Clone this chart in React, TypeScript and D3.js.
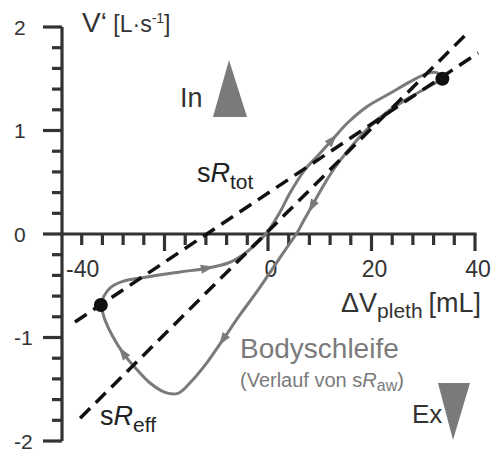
import React from "react";
import * as d3 from "d3";

// ---- data ----
const xMinorTicks = [-36, -32, -28, -24, -20, -16, -12, -8, -4, 0, 4, 8, 12, 16, 20, 24, 28, 32, 36, 40];
const xMajorTicks = [-20, 0, 20, 40];
const xTickLabels = [-40, 0, 20, 40];
const yMinorTicks = [-2, -1.8, -1.6, -1.4, -1.2, -1, -0.8, -0.6, -0.4, -0.2, 0, 0.2, 0.4, 0.6, 0.8, 1, 1.2, 1.4, 1.6, 1.8, 2];
const yMajorTicks = [-2, -1, 0, 1, 2];
const yTickLabels = ["-2", "-1", "0", "1", "2"];

// inspiration branch (lower-left point -> upper-right point)
const inspX = [-32.3, -31.7, -30.5, -28.2, -23.4, -17.0, -11.8, -7.7, -4.8, -2.5, -0.6, 0.8, 2.3, 4.3, 7.1, 9.7, 12.4, 15.3, 19.1, 23.6, 27.4, 30.7, 32.6, 33.7];
const inspY = [-0.686, -0.6, -0.52, -0.46, -0.415, -0.367, -0.33, -0.28, -0.2, -0.106, -0.01, 0.087, 0.21, 0.4, 0.62, 0.76, 0.91, 1.07, 1.23, 1.36, 1.47, 1.55, 1.56, 1.5];
// expiration branch (upper-right point -> lower-left point)
const expX = [33.7, 31.3, 27.4, 23.6, 19.7, 16.2, 12.9, 10.4, 8.5, 6.8, 5.6, 4.25, 1.35, -1.9, -5.4, -8.7, -12.2, -15.1, -17.4, -19.9, -22.8, -25.7, -28.0, -30.1, -31.5, -32.3];
const expY = [1.5, 1.43, 1.32, 1.2, 1.04, 0.85, 0.64, 0.44, 0.27, 0.12, 0.01, -0.087, -0.3, -0.54, -0.78, -1.02, -1.27, -1.44, -1.54, -1.53, -1.44, -1.29, -1.15, -0.98, -0.83, -0.686];
const inspArrowIdx = [6, 16];
const expArrowIdx = [8, 15, 22];

// dashed resistance lines
const totX = [-37.3, 40.6];
const totY = [-0.85, 1.75];
const effX = [-36.3, 38.5];
const effY = [-1.78, 1.94];

// end points of loop
const dotX = [-32.3, 33.7];
const dotY = [-0.686, 1.5];

const W = 493;
const H = 451;
const AX = "#333333";
const GRAY = "#7a7a7a";
const FONT = "'Liberation Sans', Arial, Helvetica, sans-serif";

export default function App() {
  const x = d3.scaleLinear().domain([-40, 40]).range([61, 475]);
  const y = d3.scaleLinear().domain([-2, 2]).range([441, 27]);
  const x0 = x(-40) + 1;

  const line = d3
    .line<[number, number]>()
    .x((d) => x(d[0]))
    .y((d) => y(d[1]))
    .curve(d3.curveCatmullRom.alpha(0.5));
  const straight = d3
    .line<[number, number]>()
    .x((d) => x(d[0]))
    .y((d) => y(d[1]));

  const insp: [number, number][] = inspX.map((v, i) => [v, inspY[i]]);
  const exp: [number, number][] = expX.map((v, i) => [v, expY[i]]);

  const arrow = (pts: [number, number][], i: number, key: string) => {
    const px = x(pts[i][0]);
    const py = y(pts[i][1]);
    const ax = x(pts[i + 1][0]) - x(pts[i - 1][0]);
    const ay = y(pts[i + 1][1]) - y(pts[i - 1][1]);
    const ang = (Math.atan2(ay, ax) * 180) / Math.PI;
    return (
      <path
        key={key}
        d="M7,0 L-6,-4.5 L-6,4.5 Z"
        fill={GRAY}
        transform={`translate(${px},${py}) rotate(${ang})`}
      />
    );
  };

  return (
    <svg
      width={W}
      height={H}
      style={{ position: "absolute", left: 0, top: 0, background: "#fff" }}
      fontFamily={FONT}
    >
      {/* axes */}
      <g stroke={AX} strokeWidth={3.2} fill="none">
        <line x1={x0} x2={x0} y1={y(2)} y2={y(-2)} />
        <line x1={x0 - 1.5} x2={x(40) + 1.5} y1={y(0)} y2={y(0)} />
        {yMinorTicks.map((t) => (
          <line key={"ym" + t} x1={yMajorTicks.includes(t) ? x0 - 19 : x0 - 10} x2={x0} y1={y(t)} y2={y(t)} />
        ))}
        {xMinorTicks.map((t) => (
          <line key={"xm" + t} x1={x(t)} x2={x(t)} y1={y(0)} y2={xMajorTicks.includes(t) ? y(0) + 17 : y(0) + 11} />
        ))}
      </g>
      <g fill={AX} fontSize={21}>
        {yMajorTicks.map((t, i) => (
          <text key={"yl" + t} x={14} y={y(t) + 7.5}>
            {yTickLabels[i]}
          </text>
        ))}
      </g>
      <g fill={AX} fontSize={23}>
        {xTickLabels.map((t) =>
          t === -40 ? (
            <text key={"xl" + t} x={x0 + 4} y={277}>
              {t}
            </text>
          ) : (
            <text key={"xl" + t} x={x(t) + 3} y={277} textAnchor="middle">
              {t}
            </text>
          )
        )}
      </g>

      {/* loop */}
      <path d={line(insp) || ""} fill="none" stroke={GRAY} strokeWidth={3} />
      <path d={line(exp) || ""} fill="none" stroke={GRAY} strokeWidth={3} />
      {inspArrowIdx.map((i) => arrow(insp, i, "ia" + i))}
      {expArrowIdx.map((i) => arrow(exp, i, "ea" + i))}

      {/* dashed lines */}
      <path
        d={straight(totX.map((v, i) => [v, totY[i]] as [number, number])) || ""}
        stroke="#111"
        strokeWidth={3.5}
        strokeDasharray="14 8"
        fill="none"
      />
      <path
        d={straight(effX.map((v, i) => [v, effY[i]] as [number, number])) || ""}
        stroke="#111"
        strokeWidth={3.5}
        strokeDasharray="14 8"
        fill="none"
      />
      {dotX.map((v, i) => (
        <circle key={"d" + i} cx={x(v)} cy={y(dotY[i])} r={7} fill="#111" />
      ))}

      {/* labels */}
      <text x={82} y={32} fill={AX}>
        <tspan fontSize={28}>V‘</tspan>
        <tspan fontSize={23}> [L·s</tspan>
        <tspan fontSize={14} dy={-9}>-1</tspan>
        <tspan fontSize={23} dy={9}>]</tspan>
      </text>

      <text x={180} y={107} fill={AX} fontSize={27}>In</text>
      <path d="M213,117 L247,117 L229,60 Z" fill={GRAY} />

      <text x={197} y={182} fill="#222">
        <tspan fontSize={27}>s</tspan>
        <tspan fontSize={27} fontStyle="italic">R</tspan>
        <tspan fontSize={21} dy={7}>tot</tspan>
      </text>

      <text x={100} y={425} fill="#222">
        <tspan fontSize={27}>s</tspan>
        <tspan fontSize={27} fontStyle="italic">R</tspan>
        <tspan fontSize={21} dy={7}>eff</tspan>
      </text>

      <text x={341} y={312} fill={AX}>
        <tspan fontSize={27}>ΔV</tspan>
        <tspan fontSize={21} dy={6}>pleth</tspan>
        <tspan fontSize={27} dy={-6} dx={6}>[mL]</tspan>
      </text>

      <text x={240} y={358} fill={GRAY} fontSize={28}>Bodyschleife</text>
      <text x={240} y={387} fill={GRAY}>
        <tspan fontSize={20}>(Verlauf von s</tspan>
        <tspan fontSize={20} fontStyle="italic">R</tspan>
        <tspan fontSize={16} dy={4}>aw</tspan>
        <tspan fontSize={20} dy={-4}>)</tspan>
      </text>

      <text x={412} y={423} fill={AX} fontSize={26}>Ex</text>
      <path d="M438,383 L470,383 L453,440 Z" fill={GRAY} />
    </svg>
  );
}
